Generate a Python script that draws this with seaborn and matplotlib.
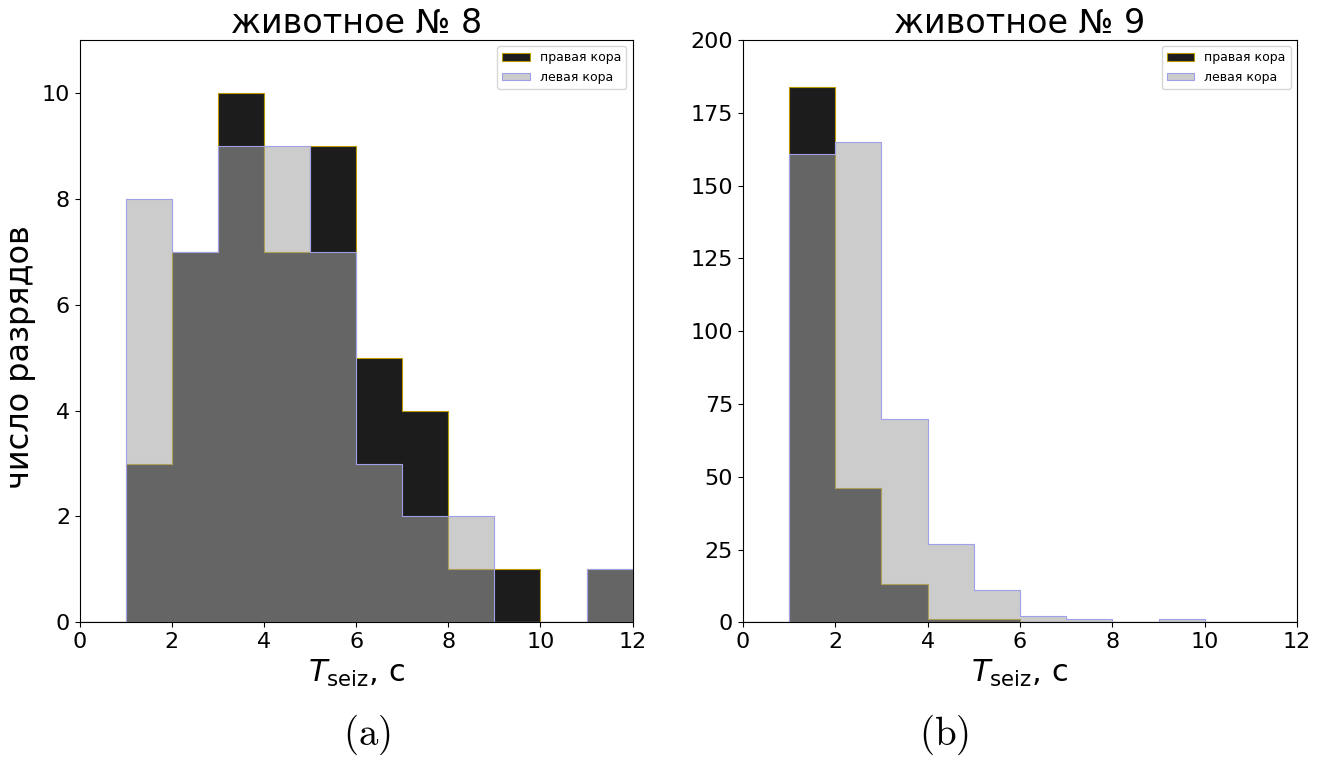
import numpy as np
import matplotlib
matplotlib.use('Agg')
import matplotlib.pyplot as plt
import seaborn as sns

# Bin edges (seconds) shared by both panels
bin_edges = list(range(0, 13))
bin_centers = [b + 0.5 for b in bin_edges[:-1]]

# Animal 8: counts per 1-s bin
right_8 = [0, 3, 7, 10, 7, 9, 5, 4, 1, 1, 0, 1]
left_8 = [0, 8, 7, 9, 9, 7, 3, 2, 2, 0, 0, 1]

# Animal 9: counts per 1-s bin
right_9 = [0, 184, 46, 13, 1, 1, 0, 0, 0, 0, 0, 0]
left_9 = [0, 161, 165, 70, 27, 11, 2, 1, 0, 1, 0, 0]

titles = ['животное № 8', 'животное № 9']
ylims = [(0, 11), (0, 200)]
yticks = [list(range(0, 11, 2)), list(range(0, 201, 25))]

sns.set_style('ticks')
plt.rcParams['font.family'] = ['DejaVu Sans']
plt.rcParams['text.color'] = 'black'
plt.rcParams['axes.labelcolor'] = 'black'
plt.rcParams['xtick.color'] = 'black'
plt.rcParams['ytick.color'] = 'black'

fig = plt.figure(figsize=(13.29, 7.58), dpi=100)
ax_a = fig.add_axes([0.060, 0.179, 0.416, 0.768])
ax_b = fig.add_axes([0.559, 0.179, 0.417, 0.768])

panels = [(ax_a, right_8, left_8), (ax_b, right_9, left_9)]

for i, (ax, right, left) in enumerate(panels):
    # right cortex first, left cortex drawn over it semi-transparent
    sns.histplot(x=bin_centers, weights=right, bins=bin_edges, ax=ax,
                 element='step', color='black', alpha=0.89,
                 edgecolor='#b89a00', linewidth=0.8, label='правая кора')
    sns.histplot(x=bin_centers, weights=left, bins=bin_edges, ax=ax,
                 element='step', color='#a2a2a2', alpha=0.55,
                 edgecolor='#a0a0e8', linewidth=0.8, label='левая кора')
    ax.set_xlim(0, 12)
    ax.set_ylim(*ylims[i])
    ax.set_xticks(range(0, 13, 2))
    ax.set_yticks(yticks[i])
    ax.tick_params(labelsize=16)
    for sp in ax.spines.values():
        sp.set_color('black')
    ax.set_title(titles[i], fontsize=24, pad=1)
    ax.set_xlabel(r'$T_{\mathrm{seiz}}$, с', fontsize=22)
    ax.set_ylabel('')
    ax.legend(loc='upper right', fontsize=9, handleheight=0.5, handlelength=2.2)

ax_a.set_ylabel('число разрядов', fontsize=23, y=0.455)

# panel tags in Computer Modern
fig.text(0.276, 0.031, r'$\mathrm{(a)}$', fontsize=28, ha='center', va='center',
         math_fontfamily='cm')
fig.text(0.710, 0.031, r'$\mathrm{(b)}$', fontsize=28, ha='center', va='center',
         math_fontfamily='cm')

fig.savefig('out.png', dpi=100)
